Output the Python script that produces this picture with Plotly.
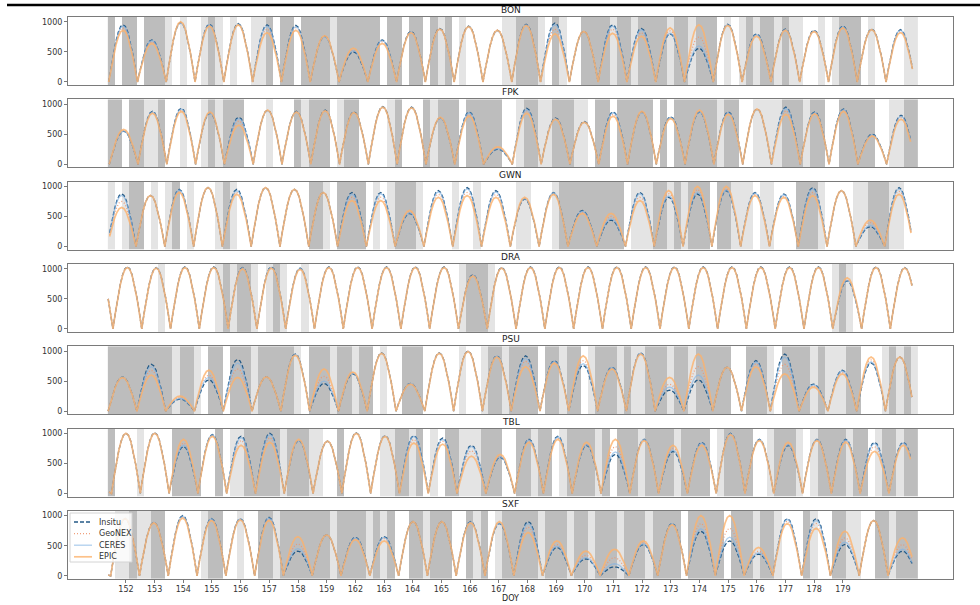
import plotly.graph_objects as go

STATIONS = ["BON", "FPK", "GWN", "DRA", "PSU", "TBL", "SXF"]
DOY_LABELS = [152, 153, 154, 155, 156, 157, 158, 159, 162, 163, 164, 165, 166,
              167, 168, 169, 170, 171, 172, 173, 174, 175, 176, 177, 178, 179]
LEGEND_NAMES = ["Insitu", "GeoNEX", "CERES", "EPIC"]

# normalised daytime profile of one day's arc (typed shape)
PROFILE = [0.0, 0.26, 0.5, 0.71, 0.87, 0.97, 1.0, 0.97, 0.87, 0.71, 0.5, 0.26, 0.0]

# daily peak values (W/m2), days -1 .. 28
BON_INSITU = [200, 950, 700, 990, 960, 970, 950, 940, 760, 500, 700, 840, 890, 930, 860, 960, 980, 840, 950, 890, 800, 560, 960, 800, 880, 860, 930, 880, 870, 600]
BON_GEONEX = [200, 900, 670, 990, 940, 950, 880, 900, 760, 530, 670, 830, 880, 920, 860, 950, 880, 840, 880, 820, 850, 750, 950, 780, 870, 850, 910, 870, 840, 600]
BON_CERES = [200, 930, 690, 980, 950, 960, 930, 920, 750, 520, 690, 830, 880, 920, 850, 950, 950, 830, 930, 870, 810, 600, 950, 790, 870, 850, 920, 870, 860, 600]
BON_EPIC = [200, 860, 640, 1000, 930, 950, 820, 860, 770, 560, 640, 820, 880, 920, 860, 940, 800, 840, 810, 760, 900, 950, 940, 760, 860, 840, 900, 870, 820, 600]

FPK_INSITU = [100, 550, 880, 930, 850, 780, 900, 880, 900, 870, 960, 950, 770, 870, 250, 930, 770, 710, 870, 870, 790, 870, 870, 920, 950, 870, 920, 500, 815, 300]
FPK_GEONEX = [120, 560, 860, 900, 860, 720, 900, 870, 890, 860, 950, 940, 770, 830, 270, 890, 760, 700, 830, 870, 770, 880, 850, 920, 890, 850, 900, 480, 780, 300]
FPK_CERES = [110, 550, 870, 920, 850, 760, 890, 870, 890, 860, 950, 940, 760, 860, 260, 910, 760, 700, 860, 860, 780, 870, 860, 910, 930, 860, 910, 490, 800, 300]
FPK_EPIC = [150, 580, 850, 880, 870, 650, 900, 870, 890, 860, 950, 940, 780, 800, 290, 850, 750, 700, 800, 880, 760, 900, 830, 920, 830, 840, 880, 470, 750, 300]

GWN_INSITU = [100, 875, 850, 950, 980, 950, 980, 950, 900, 900, 900, 550, 930, 980, 930, 790, 900, 600, 440, 900, 820, 875, 930, 900, 875, 980, 930, 330, 980, 300]
GWN_GEONEX = [100, 750, 850, 920, 980, 900, 980, 950, 900, 820, 820, 580, 870, 900, 870, 800, 880, 570, 500, 820, 880, 950, 960, 870, 840, 900, 930, 400, 920, 300]
GWN_CERES = [100, 850, 850, 940, 980, 930, 980, 950, 900, 870, 880, 560, 910, 960, 910, 795, 895, 590, 460, 880, 840, 900, 940, 890, 865, 960, 930, 350, 960, 300]
GWN_EPIC = [100, 650, 850, 900, 980, 870, 980, 950, 900, 765, 765, 600, 820, 850, 820, 820, 870, 550, 550, 765, 930, 1000, 1000, 850, 820, 850, 930, 440, 870, 300]

DRA_INSITU = [1000, 1030, 1020, 1030, 1030, 1020, 1030, 1010, 1030, 1030, 1030, 1030, 1030, 900, 1020, 1030, 1030, 1030, 1030, 1030, 1030, 1030, 1030, 1030, 1030, 1030, 800, 1030, 1020, 500]
DRA_GEONEX = [1000, 1025, 1015, 1025, 1025, 1010, 1020, 1000, 1025, 1025, 1025, 1025, 1025, 890, 1015, 1025, 1025, 1025, 1025, 1025, 1025, 1025, 1025, 1025, 1025, 1025, 820, 1025, 1015, 500]
DRA_CERES = [1000, 1025, 1015, 1025, 1025, 1015, 1025, 1005, 1025, 1025, 1025, 1025, 1025, 890, 1015, 1025, 1025, 1025, 1025, 1025, 1025, 1025, 1025, 1025, 1025, 1025, 810, 1025, 1015, 500]
DRA_EPIC = [1000, 1020, 1010, 1020, 1020, 1000, 1010, 990, 1020, 1020, 1020, 1020, 1020, 880, 1010, 1020, 1020, 1020, 1020, 1020, 1020, 1020, 1020, 1020, 1020, 1020, 850, 1020, 1010, 500]

PSU_INSITU = [50, 570, 780, 200, 520, 860, 570, 950, 460, 620, 970, 460, 970, 1000, 920, 920, 840, 760, 730, 970, 350, 520, 730, 840, 950, 450, 680, 800, 900, 200]
PSU_GEONEX = [50, 560, 680, 230, 600, 700, 570, 940, 580, 640, 965, 455, 965, 995, 910, 830, 820, 840, 715, 960, 450, 740, 730, 790, 780, 420, 650, 850, 900, 200]
PSU_CERES = [50, 570, 740, 210, 560, 800, 570, 945, 500, 630, 965, 460, 965, 995, 915, 880, 830, 790, 725, 965, 400, 600, 730, 820, 900, 440, 670, 820, 900, 200]
PSU_EPIC = [50, 560, 600, 250, 680, 560, 570, 930, 700, 650, 960, 450, 960, 990, 900, 740, 800, 920, 700, 950, 560, 950, 730, 740, 620, 400, 620, 900, 900, 200]

TBL_INSITU = [100, 1000, 1010, 780, 980, 950, 1000, 880, 870, 1010, 960, 960, 920, 800, 600, 900, 950, 800, 650, 900, 700, 850, 1000, 900, 800, 900, 900, 850, 850, 200]
TBL_GEONEX = [100, 1000, 1005, 840, 965, 880, 930, 890, 870, 1005, 955, 900, 870, 710, 620, 880, 920, 820, 780, 890, 750, 830, 990, 890, 820, 890, 880, 780, 830, 200]
TBL_CERES = [100, 1000, 1005, 800, 975, 930, 980, 880, 870, 1005, 955, 950, 900, 780, 610, 890, 940, 810, 690, 900, 720, 840, 995, 895, 810, 895, 890, 830, 840, 200]
TBL_EPIC = [100, 1000, 1000, 900, 950, 800, 850, 900, 870, 1000, 950, 840, 820, 620, 650, 850, 900, 850, 900, 880, 800, 800, 980, 880, 850, 880, 850, 700, 800, 200]

SXF_INSITU = [50, 950, 890, 1000, 950, 950, 970, 410, 680, 640, 650, 900, 900, 900, 870, 900, 470, 280, 150, 520, 870, 740, 580, 360, 950, 950, 520, 920, 410, 100]
SXF_GEONEX = [50, 950, 885, 980, 935, 940, 945, 530, 680, 620, 620, 900, 900, 890, 885, 810, 520, 340, 300, 550, 860, 870, 790, 410, 910, 870, 630, 920, 520, 100]
SXF_CERES = [50, 950, 890, 990, 945, 945, 960, 450, 680, 630, 640, 900, 900, 895, 875, 870, 490, 300, 200, 530, 865, 780, 640, 380, 940, 920, 560, 920, 440, 100]
SXF_EPIC = [50, 950, 880, 960, 920, 930, 920, 650, 680, 600, 580, 900, 900, 880, 900, 720, 580, 410, 440, 580, 850, 1000, 1000, 470, 870, 790, 740, 920, 630, 100]

# cloud class per quarter-day cell (0 clear, 1 partly, 2 cloudy)
BON_CLOUD = "2022022210 1001210100 1120220222 2122222202 2022021201 0000011222 1021002222 1221222212 2122201012 1221211001 0122201000 011"
FPK_CLOUD = "2202211200 1001212220 0010002122 2012200001 2000212220 2222200122 1122211022 0222220202 2222212200 1111222122 0022222001 122"
GWN_CLOUD = "1012201012 0100012100 0000000022 1022220101 2221000010 0100000110 0012222222 2201112212 1222022111 0110002221 0000112221 100"
DRA_CLOUD = "0000000100 0000012122 1012100100 0000000000 0000000001 2221000000 0000000000 0000000000 0000000000 0000000000 0121000000 000"
PSU_CLOUD = "2222222221 2210220222 1222221022 2122122010 0222000001 0012212222 0221220122 2121122212 2122222002 2210222212 1112200012 121"
TBL_CLOUD = "2000100002 2220020112 2222122211 0020000011 2212010221 1122200 2212201222 2120222122 2212222012 2220012221 0122221220 122122"
SXF_CLOUD = "0112112200 0001220010 0221222222 2122221212 0022122200 2120122222 1222122122 2122212222 0222220222 1221000210 0221100221 222"

PHASE = {"BON": -0.1, "FPK": -0.08, "GWN": -0.15, "DRA": 0.05, "PSU": -0.12, "TBL": 0.0, "SXF": -0.03}
PERIOD = 1.004

DATA = {
    "BON": (BON_INSITU, BON_GEONEX, BON_CERES, BON_EPIC, BON_CLOUD),
    "FPK": (FPK_INSITU, FPK_GEONEX, FPK_CERES, FPK_EPIC, FPK_CLOUD),
    "GWN": (GWN_INSITU, GWN_GEONEX, GWN_CERES, GWN_EPIC, GWN_CLOUD),
    "DRA": (DRA_INSITU, DRA_GEONEX, DRA_CERES, DRA_EPIC, DRA_CLOUD),
    "PSU": (PSU_INSITU, PSU_GEONEX, PSU_CERES, PSU_EPIC, PSU_CLOUD),
    "TBL": (TBL_INSITU, TBL_GEONEX, TBL_CERES, TBL_EPIC, TBL_CLOUD),
    "SXF": (SXF_INSITU, SXF_GEONEX, SXF_CERES, SXF_EPIC, SXF_CLOUD),
}

X_START, X_END = -0.63, 27.44
CELL = 0.25
N_CELLS = 113

STYLES = [
    dict(color="#245a86", width=1.3, dash="4px,2px"),
    dict(color="rgba(240,150,110,0.9)", width=1.2, dash="1px,2px"),
    dict(color="rgba(130,180,228,0.65)", width=1.3),
    dict(color="rgba(252,178,108,0.8)", width=1.7),
]

n = len(PROFILE)
offsets = [-0.5 + i / (n - 1) for i in range(n)]


def build(peaks, phase):
    xs, ys = [], []
    for idx, peak in enumerate(peaks):
        k = idx - 1
        c = phase + k * PERIOD
        for j, (off, f) in enumerate(zip(offsets, PROFILE)):
            if idx > 0 and j == 0:
                continue
            x = c + off * PERIOD
            if X_START <= x <= X_END:
                xs.append(x)
                ys.append(peak * f)
    return xs, ys


W, H = 980, 605
ML, MR, MT, MB = 68, 27, 17, 26
PH = H - MT - MB
PW = W - ML - MR


def py(px):
    return (H - MB - px) / PH


def pxx(px):
    return (px - ML) / PW


def clamp(v):
    return max(0.0, min(1.0, v))


fig = go.Figure()
layout = dict(
    width=W, height=H, margin=dict(l=ML, r=MR, t=MT, b=MB),
    paper_bgcolor="white", plot_bgcolor="white",
    font=dict(family="DejaVu Sans", size=8, color="#333333"),
    showlegend=False,
)
annotations = []
shapes = []
colorscale = [[0, "#ffffff"], [0.333, "#ffffff"], [0.333, "#e4e4e4"], [0.666, "#e4e4e4"],
              [0.666, "#bdbdbd"], [1, "#bdbdbd"]]

for si, st in enumerate(STATIONS):
    r = si + 1
    xa = "x" if r == 1 else f"x{r}"
    ya = "y" if r == 1 else f"y{r}"
    ins, geo, cer, epi, cloud = DATA[st]
    codes = [int(c) for c in cloud if c in "012"]
    codes = (codes + [0] * N_CELLS)[:N_CELLS]
    edges = [X_START + CELL * i for i in range(N_CELLS + 1)]
    fig.add_trace(go.Heatmap(x=edges, y=[-50, 1080], z=[codes], zmin=0, zmax=2,
                             colorscale=colorscale, showscale=False, hoverinfo="skip",
                             xaxis=xa, yaxis=ya))
    for name, line, vals in zip(LEGEND_NAMES, STYLES, [ins, geo, cer, epi]):
        xs, ys = build(vals, PHASE[st])
        fig.add_trace(go.Scatter(x=xs, y=ys, mode="lines", line=line, name=name,
                                 xaxis=xa, yaxis=ya))
    top = MT + 82.3 * si
    bot = top + 68
    dom = [clamp(py(bot)), clamp(py(top))]
    axis_line = dict(showline=True, mirror=True, linecolor="#7a7a7a", linewidth=1,
                     showgrid=False, zeroline=False)
    xkey = "xaxis" if r == 1 else f"xaxis{r}"
    ykey = "yaxis" if r == 1 else f"yaxis{r}"
    xdict = dict(domain=[0, 1], range=[-2.02, 28.84], anchor=ya, **axis_line)
    if r == len(STATIONS):
        xdict.update(tickmode="array", tickvals=list(range(len(DOY_LABELS))),
                     ticktext=[str(d) for d in DOY_LABELS], ticks="outside", ticklen=3,
                     tickcolor="#7a7a7a", tickfont=dict(size=8, color="#333333"))
    else:
        xdict.update(showticklabels=False, ticks="")
    layout[xkey] = xdict
    layout[ykey] = dict(domain=dom, range=[-50, 1080], anchor=xa, tickmode="array",
                        tickvals=[0, 500, 1000], ticks="outside", ticklen=3,
                        tickcolor="#7a7a7a", tickfont=dict(size=8, color="#333333"),
                        **axis_line)
    annotations.append(dict(text=st, xref="paper", yref="paper", x=0.5, y=py(top - 7),
                            xanchor="center", yanchor="middle", showarrow=False,
                            font=dict(size=9, color="#222222")))

annotations.append(dict(text="DOY", xref="paper", yref="paper", x=0.5, y=py(598),
                        xanchor="center", yanchor="middle", showarrow=False,
                        font=dict(size=8, color="#222222")))

# top rule
shapes.append(dict(type="line", xref="paper", yref="paper", x0=pxx(7), x1=pxx(980),
                   y0=py(5), y1=py(5), line=dict(color="black", width=2.5)))

# legend box (drawn manually for compact matplotlib-like look)
shapes.append(dict(type="rect", xref="paper", yref="paper", x0=pxx(70), x1=pxx(132),
                   y0=py(562), y1=py(513), fillcolor="rgba(255,255,255,0.82)",
                   line=dict(color="#d4d4d4", width=1), layer="above"))
for i, (name, line) in enumerate(zip(LEGEND_NAMES, STYLES)):
    yy = py(522 + 11.6 * i)
    ldict = dict(color=line["color"], width=line["width"])
    if "dash" in line:
        ldict["dash"] = line["dash"]
    shapes.append(dict(type="line", xref="paper", yref="paper", x0=pxx(74), x1=pxx(92),
                       y0=yy, y1=yy, line=ldict, layer="above"))
    annotations.append(dict(text=name, xref="paper", yref="paper", x=pxx(97), y=yy,
                            xanchor="left", yanchor="middle", showarrow=False,
                            font=dict(size=8, color="#333333")))

layout["annotations"] = annotations
layout["shapes"] = shapes
fig.update_layout(**layout)
fig.write_html("out.html")
